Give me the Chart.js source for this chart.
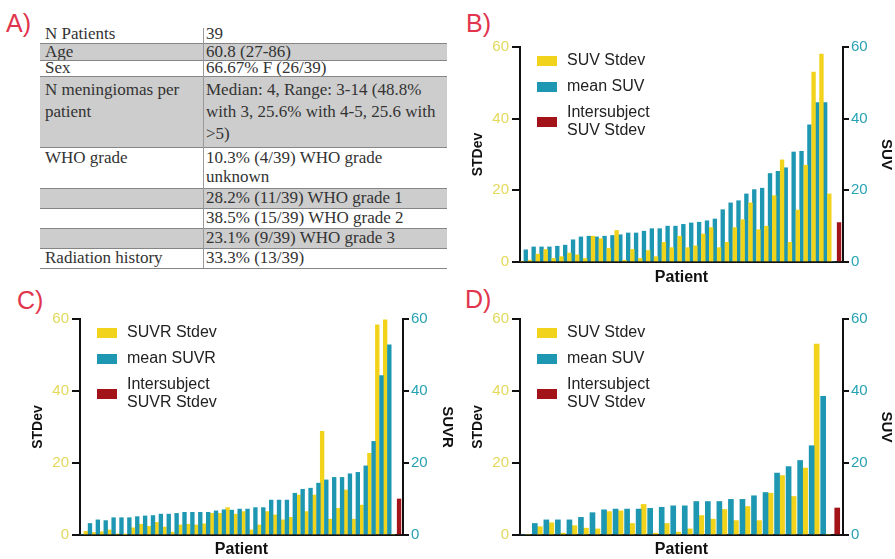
<!DOCTYPE html>
<html>
<head>
<meta charset="utf-8">
<script src="https://cdn.jsdelivr.net/npm/chart.js@4.4.0/dist/chart.umd.min.js"></script>
<style>
  html, body { margin: 0; padding: 0; background: #fff; }
  #page { position: relative; width: 895px; height: 559px; overflow: hidden; font-family: "Liberation Sans", Arial, sans-serif; }
  .panel-label { position: absolute; color: #e1344d; font-size: 25px; line-height: 25px; }
  canvas { position: absolute; }
  #table { position: absolute; left: 40px; top: 0; width: 407px; font-family: "Liberation Serif", "Times New Roman", serif; font-size: 17px; color: #333; }
  .row { position: absolute; left: 0; width: 407px; box-sizing: border-box; }
  .row.shaded { background: #cdcdcd; }
  .row .l, .row .r { position: absolute; top: 0; white-space: pre; }
  .row .l { left: 5px; }
  .row .r { left: 166px; }
  .hline { position: absolute; left: 0; width: 407px; height: 1px; background: #858585; }
  .vline { position: absolute; left: 163px; width: 1px; background: #9a9a9a; }
</style>
</head>
<body>
<div id="page">
  <div class="panel-label" style="left:6px; top:11px;">A)</div>
  <div class="panel-label" style="left:466px; top:11px;">B)</div>
  <div class="panel-label" style="left:17px; top:288px;">C)</div>
  <div class="panel-label" style="left:465px; top:287px;">D)</div>
  <div id="table"></div>
  <canvas id="chartB" width="440" height="257" style="left:455px; top:30px;"></canvas>
  <canvas id="chartC" width="441" height="259" style="left:15px; top:300px;"></canvas>
  <canvas id="chartD" width="440" height="259" style="left:455px; top:300px;"></canvas>
</div>
<script>
// ---- table (panel A)
const tableLabels = ['N Patients', 'Age', 'Sex', 'N meningiomas per\npatient', 'WHO grade', '', '', '', 'Radiation history'];
const tableValues = [
  '39',
  '60.8 (27-86)',
  '66.67% F (26/39)',
  'Median: 4, Range: 3-14 (48.8%\nwith 3, 25.6% with 4-5, 25.6 with\n>5)',
  '10.3% (4/39) WHO grade\nunknown',
  '28.2% (11/39) WHO grade 1',
  '38.5% (15/39) WHO grade 2',
  '23.1% (9/39) WHO grade 3',
  '33.3% (13/39)'
];
const tableShaded = [false, true, false, true, false, true, false, true, false];

// ---- panel B: SUV
const bYellow = [0, 0.5, 2.2, 3.5, 1, 1.5, 2.5, 2, 1, 7.2, 6.5, 3.8, 8.8, 0.5, 3.5, 1, 3.2, 1.5, 5.5, 4,
  7.2, 4, 4.5, 7.8, 9.6, 4, 5.5, 9.6, 11.8, 16.5, 9, 10, 18.5, 28.5, 5.5, 14.5, 27, 53, 58, 19, null];
const bTeal = [3.4, 4.2, 4.2, 4.2, 4.4, 4.7, 6.2, 7.0, 7.2, 7.0, 7.2, 7.4, 7.6, 8.1, 8.1, 8.6, 9.3, 9.3, 10.0, 10.0,
  10.5, 10.9, 11.1, 11.5, 12.0, 14.6, 16.5, 17.1, 19.0, 20.2, 20.6, 24.7, 25.3, 26.3, 30.7, 30.9, 38.3, 44.5, 44.5, 0, null];
const bInter = 11;

// ---- panel C: SUVR
const cTeal = [0, 3.2, 4.2, 4.0, 4.8, 4.8, 4.8, 5.1, 5.3, 5.4, 5.8, 5.8, 6.0, 6.3, 6.3, 6.3, 6.3, 6.7, 7.0, 6.9,
  7.2, 7.2, 7.6, 7.6, 9.7, 9.7, 9.7, 11.6, 12.7, 13.0, 14.4, 15.3, 16.0, 16.0, 17.0, 17.4, 19.2, 26.0, 44.3, 52.8, null];
const cYellow = [1.0, 0.7, 0.9, 1.4, 0.3, 0.2, 2.0, 3.0, 2.4, 3.5, 2.2, 0.8, 2.8, 3.0, 2.8, 3.1, 6.0, 6.0, 7.6, 5.8,
  6.5, 1.4, 2.8, 6.5, 5.6, 4.2, 4.9, 11.1, 6.5, 11.1, 28.8, 4.4, 7.4, 12.5, 4.4, 8.3, 22.7, 58.4, 59.8, 0, null];
const cInter = 10;

// ---- panel D: SUV
const dTeal = [0, 3.2, 4.2, 4.2, 4.2, 4.9, 6.2, 7.0, 7.2, 7.2, 7.2, 7.4, 7.7, 8.1, 8.1, 9.3, 9.3, 9.3, 9.9, 9.9,
  10.9, 11.8, 17.2, 19.0, 20.7, 24.8, 38.5, null];
const dYellow = [0, 2.3, 3.4, 0.5, 2.6, 1.9, 1.7, 6.5, 6.7, 3.2, 8.5, 0.5, 3.2, 0.8, 1.7, 5.4, 4.4, 7.1, 4.0, 7.9,
  4.0, 11.6, 16.5, 10.7, 18.6, 53, 0, null];
const dInter = 7.5;

const yTicks = [0, 20, 40, 60];

const YELLOW = '#f1d31c';
const TEAL = '#1e98b2';
const RED = '#a3131a';

// build table
const rowTops = [24, 43, 60, 76, 147, 188, 208, 228, 248, 268];
const rowLineH = [19, 17, 16, 22, 18.5, 20, 20, 20, 20];
const tableEl = document.getElementById('table');
let html = '';
tableLabels.forEach((lab, i) => {
  const top = rowTops[i];
  const h = rowTops[i + 1] - top;
  const lines = Math.max(lab.split('\n').length, tableValues[i].split('\n').length);
  const pad = (h - lines * rowLineH[i]) / 2;
  const style = `line-height:${rowLineH[i]}px; top:${pad}px;`;
  html += `<div class="row${tableShaded[i] ? ' shaded' : ''}" style="top:${top}px; height:${h}px;">` +
    `<div class="l" style="${style}">${lab.replace(/>/g, '&gt;')}</div>` +
    `<div class="r" style="${style}">${tableValues[i].replace(/>/g, '&gt;')}</div></div>`;
});
rowTops.slice(1).forEach(t => { html += `<div class="hline" style="top:${t}px;"></div>`; });
html += `<div class="vline" style="top:28px; height:${rowTops[rowTops.length - 1] - 28}px;"></div>`;
tableEl.innerHTML = html;

// ---- charts
Chart.defaults.font.family = '"Liberation Sans", Arial, sans-serif';
Chart.defaults.color = '#111';

const sideLegend = {
  id: 'sideLegend',
  afterDraw(chart, args, opts) {
    const ctx = chart.ctx;
    const {left, top} = chart.chartArea;
    ctx.save();
    ctx.font = '16px "Liberation Sans", Arial, sans-serif';
    ctx.textBaseline = 'middle';
    ctx.fillStyle = '#222';
    const rows = [14, 40, 75];
    opts.order.forEach((idx, i) => {
      const ds = chart.data.datasets[idx];
      const cy = top + rows[i];
      ctx.fillStyle = ds.backgroundColor;
      ctx.fillRect(left + 17, cy - 5, 20, 10);
      ctx.fillStyle = '#222';
      const lines = ds.label.split('\n');
      lines.forEach((ln, j) => {
        ctx.fillText(ln, left + 47, cy + (j - (lines.length - 1) / 2) * 18);
      });
    });
    ctx.restore();
  }
};

function slotLabels(arr) {
  return arr.map((_, i) => String(i + 1));
}

function interData(arr, value) {
  return arr.map((_, i) => (i === arr.length - 1 ? value : null));
}

function buildChart(id, o) {
  const yellowDs = {label: o.stdLabel, data: o.yellow, backgroundColor: YELLOW, yAxisID: 'y'};
  const tealDs = {label: o.meanLabel, data: o.teal, backgroundColor: TEAL, yAxisID: 'y1'};
  const redDs = {label: o.interLabel, data: interData(o.teal, o.inter), backgroundColor: RED, yAxisID: 'y'};
  const datasets = o.yellowFirst ? [yellowDs, tealDs, redDs] : [tealDs, yellowDs, redDs];
  datasets.forEach(ds => { ds.barThickness = o.bar; ds.skipNull = true; ds.borderWidth = 0; });
  const legendOrder = [datasets.indexOf(yellowDs), datasets.indexOf(tealDs), datasets.indexOf(redDs)];

  return new Chart(document.getElementById(id), {
    type: 'bar',
    data: {labels: slotLabels(o.teal), datasets},
    plugins: [sideLegend],
    options: {
      responsive: false,
      animation: false,
      layout: {padding: {top: o.padTop, left: 0, right: 0, bottom: 0}},
      plugins: {
        legend: {display: false},
        tooltip: {enabled: false},
        sideLegend: {order: legendOrder}
      },
      scales: {
        x: {
          offset: true,
          ticks: {display: false},
          grid: {display: false},
          border: {color: '#111', width: 2},
          title: {display: true, text: 'Patient', font: {size: 16, weight: 'bold'}, color: '#111', padding: 0},
          afterFit: s => { s.height = o.xH; }
        },
        y: {
          position: 'left',
          min: 0, max: 60,
          afterBuildTicks: s => { s.ticks = yTicks.map(v => ({value: v})); },
          ticks: {color: '#e4d95a', font: {size: 15}, padding: 3},
          grid: {drawOnChartArea: false, drawTicks: true, tickLength: 8, color: '#111', lineWidth: 2},
          border: {color: '#111', width: 2},
          title: {display: true, text: 'STDev', font: {size: 14, weight: 'bold'}, color: '#111', padding: {top: 15, bottom: 0}},
          afterFit: s => { s.width = 65; }
        },
        y1: {
          position: 'right',
          min: 0, max: 60,
          afterBuildTicks: s => { s.ticks = yTicks.map(v => ({value: v})); },
          ticks: {color: '#27a3b3', font: {size: 15}, padding: 2},
          grid: {drawOnChartArea: false, drawTicks: true, tickLength: 6, color: '#111', lineWidth: 2},
          border: {color: '#111', width: 2},
          title: {display: true, text: o.rightTitle, font: {size: 15, weight: 'bold'}, color: '#111', padding: 0},
          afterFit: s => { s.width = o.rightW; }
        }
      }
    }
  });
}

buildChart('chartB', {
  yellow: bYellow, teal: bTeal, inter: bInter, yellowFirst: true, bar: 3.7,
  stdLabel: 'SUV Stdev', meanLabel: 'mean SUV', interLabel: 'Intersubject\nSUV Stdev',
  rightTitle: 'SUV', padTop: 17, xH: 25, rightW: 52
});
buildChart('chartC', {
  yellow: cYellow, teal: cTeal, inter: cInter, yellowFirst: false, bar: 3.7,
  stdLabel: 'SUVR Stdev', meanLabel: 'mean SUVR', interLabel: 'Intersubject\nSUVR Stdev',
  rightTitle: 'SUVR', padTop: 19, xH: 24, rightW: 53
});
buildChart('chartD', {
  yellow: dYellow, teal: dTeal, inter: dInter, yellowFirst: false, bar: 5,
  stdLabel: 'SUV Stdev', meanLabel: 'mean SUV', interLabel: 'Intersubject\nSUV Stdev',
  rightTitle: 'SUV', padTop: 19, xH: 24, rightW: 52
});
</script>
</body>
</html>
